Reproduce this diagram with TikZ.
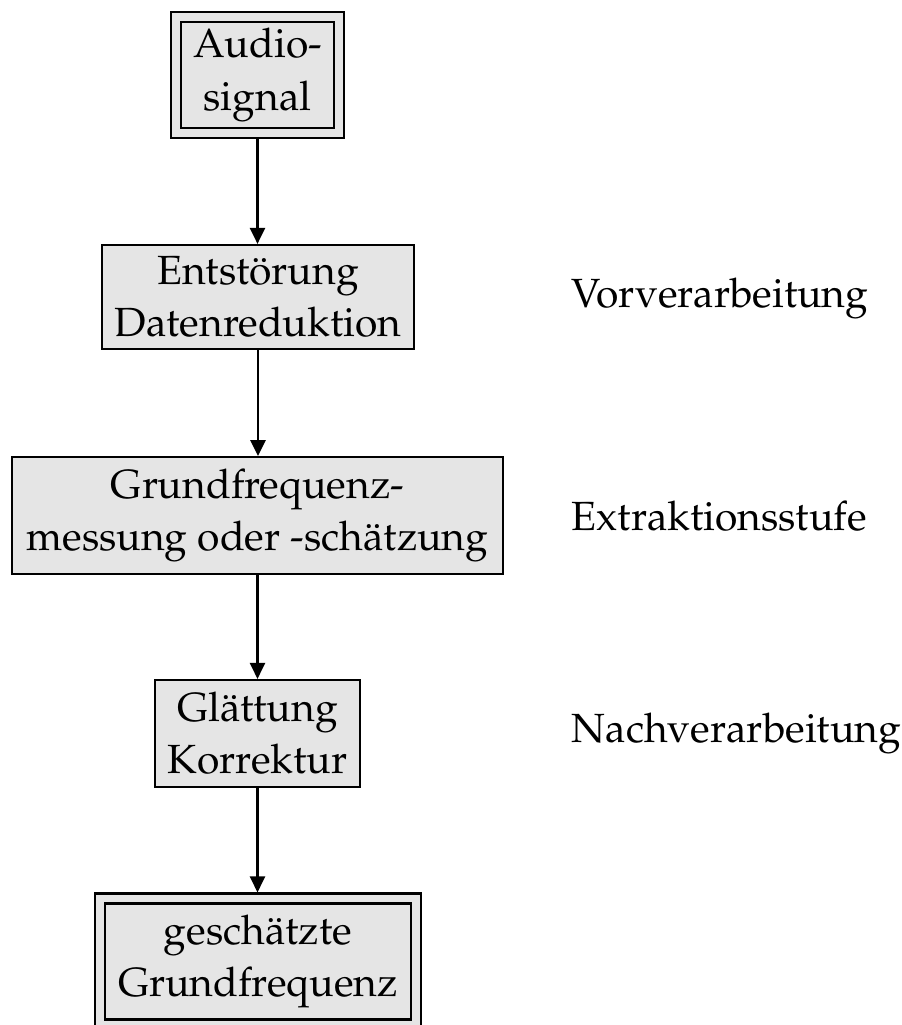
\documentclass[tikz,border=0pt]{standalone}
\usepackage[T1]{fontenc}
\usepackage{mathpazo}
\usetikzlibrary{arrows.meta}
\definecolor{boxgray}{gray}{0.9}
\tikzset{
  block/.style={draw=black, fill=boxgray, line width=0.5pt, align=center,
    inner sep=0pt, font=\fontsize{9.7}{12.4}\selectfont},
  terminal/.style={block, double=boxgray, double distance=1.9pt, outer sep=1.45pt},
  stagelabel/.style={anchor=base west, inner sep=0pt, font=\fontsize{9.7}{12}\selectfont},
  flow/.style={-{Triangle[length=3.8pt,width=3.6pt]}, line width=0.5pt},
}
\begin{document}
\begin{tikzpicture}[x=0.238pt, y=-0.238pt]
\useasboundingbox (0,0) rectangle (902,1025);
\clip (0,0) rectangle (902,1025);

% processing chain
\node[terminal, minimum width=38.7pt, minimum height=27.6pt] (audio) at (257.5,75) {Audio-\\signal};
\node[block, minimum width=74.3pt, minimum height=24.8pt] (stoer) at (258,297) {Entst\"orung\\Datenreduktion};
\node[block, minimum width=116.9pt, minimum height=27.8pt] (f0) at (257.5,515.5) {Grundfrequenz-\\messung oder -sch\"atzung};
\node[block, minimum width=48.8pt, minimum height=25.5pt] (glatt) at (257.5,733.5) {Gl\"attung\\Korrektur};
\node[terminal, minimum width=75.4pt, minimum height=30pt] (result) at (258,961.5) {gesch\"atzte\\Grundfrequenz};

% stage names
\node[stagelabel] (vor) at (571,307) {Vorverarbeitung};
\node[stagelabel] (extr) at (571,530) {Extraktionsstufe};
\node[stagelabel] (nach) at (571,742) {Nachverarbeitung};

% connectors
\draw[flow] (audio.south) -- (audio.south |- stoer.north);
\draw[flow] (stoer.south) -- (stoer.south |- f0.north);
\draw[flow] (f0.south) -- (f0.south |- glatt.north);
\draw[flow] (glatt.south) -- (glatt.south |- result.north);
\end{tikzpicture}
\end{document}
